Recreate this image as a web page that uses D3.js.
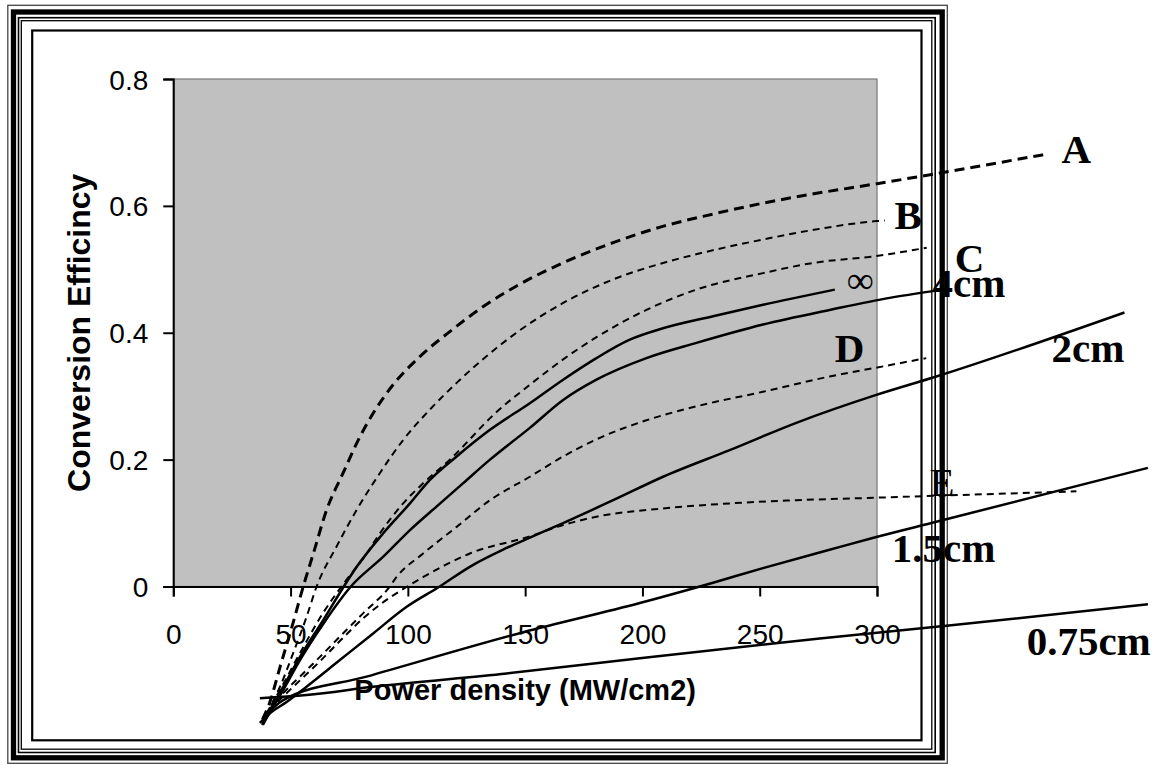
<!DOCTYPE html>
<html>
<head>
<meta charset="utf-8">
<script src="https://cdnjs.cloudflare.com/ajax/libs/d3/7.8.5/d3.min.js"></script>
<style>
body { margin: 0; background: #fff; }
</style>
</head>
<body>
<div id="chart"></div>
<script>
// axis ticks
const xTicks = [0, 50, 100, 150, 200, 250, 300];
const yTicks = [0, 0.2, 0.4, 0.6, 0.8];

// dashed curves  [power density, efficiency]
const curveA = [[38,-0.21],[41,-0.184],[45.5,-0.127],[51,-0.058],[55.4,0],[59.7,0.052],[65.4,0.121],[72.4,0.179],[78.2,0.226],[85.2,0.273],[93.7,0.318],[105,0.362],[119,0.405],[132,0.441],[146,0.473],[166,0.51],[187.5,0.542],[209,0.568],[230,0.587],[251,0.604],[273,0.619],[300,0.635],[324,0.65],[371.5,0.681]];
const curveB = [[39.8,-0.2],[45.5,-0.158],[51.1,-0.105],[56.8,-0.048],[61.1,0],[69.6,0.063],[78.2,0.121],[88.1,0.179],[98,0.231],[109.4,0.279],[120.8,0.321],[133.5,0.363],[146.3,0.4],[166.2,0.447],[187.5,0.484],[208.8,0.51],[230,0.53],[251.4,0.547],[272.7,0.562],[299.7,0.576],[303.3,0.577]];
const curveC = [[39.1,-0.204],[45.5,-0.163],[54,-0.105],[63.8,-0.042],[73.1,0.007],[81.7,0.048],[88.1,0.084],[98,0.131],[106.6,0.163],[117.9,0.2],[137.8,0.275],[152,0.318],[166.2,0.358],[180.4,0.393],[201.7,0.436],[223,0.468],[251.4,0.494],[272.7,0.51],[299.7,0.521],[321.2,0.534]];
const curveD = [[40.4,-0.198],[46.9,-0.168],[54,-0.142],[62.5,-0.111],[71,-0.079],[81,-0.042],[92.3,0],[95.2,0.015],[106.5,0.052],[120.8,0.094],[135,0.136],[152,0.173],[166.2,0.205],[180.4,0.232],[201.7,0.262],[223,0.284],[251.4,0.307],[279.8,0.331],[302.6,0.347],[321,0.36]];
const curveE = [[40.8,-0.195],[46.9,-0.173],[54,-0.148],[62.5,-0.118],[71,-0.086],[81,-0.05],[90.9,-0.021],[99.8,0],[106.6,0.015],[126.4,0.052],[152,0.079],[166.2,0.097],[180.4,0.11],[208.8,0.123],[237.2,0.131],[265.6,0.136],[299.7,0.14],[385,0.15]];

// solid curves (cell length)
const curveInf = [[38.4,-0.215],[41.2,-0.195],[46.9,-0.158],[54,-0.111],[63.9,-0.053],[72.7,0],[78.2,0.031],[89.5,0.084],[100.9,0.131],[109.4,0.168],[120.8,0.205],[135,0.247],[152,0.289],[166.2,0.326],[180.4,0.36],[194.6,0.389],[208.8,0.407],[230.1,0.426],[251.4,0.444],[282,0.468]];
const curve4cm = [[38.2,-0.218],[41.2,-0.198],[46.9,-0.163],[54,-0.116],[63.9,-0.059],[75.7,0],[89.5,0.047],[100.9,0.089],[112.2,0.126],[123.6,0.163],[135,0.2],[152,0.25],[166.2,0.294],[180.4,0.326],[201.7,0.36],[223,0.384],[251.4,0.413],[279.8,0.436],[305.4,0.455],[324.6,0.466]];
const curve2cm = [[36.9,-0.215],[41.2,-0.2],[48.3,-0.182],[56.8,-0.158],[71,-0.116],[85.2,-0.074],[99.5,-0.032],[113.6,0],[126.4,0.031],[140.6,0.058],[152,0.077],[166.2,0.1],[187.5,0.136],[208.8,0.173],[237.2,0.215],[265.6,0.258],[299.7,0.302],[325.3,0.331],[405.5,0.432]];
const curve15cm = [[37.8,-0.218],[41.2,-0.198],[46.9,-0.179],[82.4,-0.142],[149.2,-0.072],[198.9,-0.026],[230.1,0.006],[251.4,0.029],[279.8,0.058],[299.7,0.078],[325.3,0.102],[415.5,0.187]];
const curve075cm = [[36.9,-0.176],[56.8,-0.171],[85.2,-0.158],[142.1,-0.137],[198.9,-0.113],[275.6,-0.082],[329.6,-0.062],[415.5,-0.028]];

const curveNames = ["A", "B", "C", "D", "E", "∞", "4cm", "2cm", "1.5cm", "0.75cm"];

const width = 1169;
const height = 765;

// plot area in pixels
const plot = { left: 173.3, right: 877, top: 79, bottom: 586.5 };

const svg = d3.select("#chart")
    .append("svg")
    .attr("width", width)
    .attr("height", height);

// triple frame round the chart
const frames = [
    { x0: 7.8, y0: 5.3, x1: 947.3, y1: 763.3, w: 1.3, c: "#444" },
    { x0: 13.5, y0: 12, x1: 942.2, y1: 757.8, w: 5.3, c: "#000" },
    { x0: 18.5, y0: 17.7, x1: 935.2, y1: 752.5, w: 1.6, c: "#000" },
    { x0: 21.3, y0: 20.7, x1: 931.8, y1: 749.2, w: 1.3, c: "#000" },
    { x0: 32.2, y0: 30.5, x1: 921.5, y1: 740.3, w: 2.2, c: "#000" }
];
svg.selectAll("rect.frame")
    .data(frames)
    .join("rect")
    .attr("class", "frame")
    .attr("x", d => d.x0)
    .attr("y", d => d.y0)
    .attr("width", d => d.x1 - d.x0)
    .attr("height", d => d.y1 - d.y0)
    .attr("fill", "none")
    .attr("stroke", d => d.c)
    .attr("stroke-width", d => d.w);

const x = d3.scaleLinear().domain([0, 300]).range([plot.left, plot.right]);
const y = d3.scaleLinear().domain([0, 0.8]).range([plot.bottom, plot.top]);

// gray plot area
svg.append("rect")
    .attr("x", plot.left)
    .attr("y", plot.top)
    .attr("width", plot.right - plot.left)
    .attr("height", plot.bottom - plot.top)
    .attr("fill", "#c0c0c0")
    .attr("stroke", "#808080")
    .attr("stroke-width", 1.3);

// axes
const xAxis = svg.append("g")
    .attr("transform", `translate(0,${plot.bottom})`)
    .call(d3.axisBottom(x).tickValues(xTicks).tickSize(10).tickPadding(28).tickFormat(d3.format("d")));
const yAxis = svg.append("g")
    .attr("transform", `translate(${plot.left},0)`)
    .call(d3.axisLeft(y).tickValues(yTicks).tickSize(10).tickPadding(15).tickFormat(d => d === 0 ? "0" : d3.format(".1f")(d)));

[xAxis, yAxis].forEach(g => {
    g.select(".domain").attr("stroke", "#000").attr("stroke-width", 2);
    g.selectAll(".tick line").attr("stroke", "#000").attr("stroke-width", 2);
    g.selectAll(".tick text")
        .attr("fill", "#000")
        .style("font-family", "'Liberation Sans', Arial, sans-serif")
        .style("font-size", "28px");
});
yAxis.selectAll(".tick text").attr("dy", "0.36em");

// axis titles
svg.append("text")
    .attr("x", (plot.left + plot.right) / 2)
    .attr("y", 700)
    .attr("text-anchor", "middle")
    .style("font-family", "'Liberation Sans', Arial, sans-serif")
    .style("font-size", "29px")
    .style("font-weight", "bold")
    .text("Power density (MW/cm2)");

svg.append("text")
    .attr("transform", `translate(90,${(plot.top + plot.bottom) / 2}) rotate(-90)`)
    .attr("text-anchor", "middle")
    .style("font-family", "'Liberation Sans', Arial, sans-serif")
    .style("font-size", "32px")
    .style("font-weight", "bold")
    .text("Conversion Efficincy");

// curves, not clipped to the plot
const series = [
    { pts: curveA, dash: "10,6", w: 3 },
    { pts: curveB, dash: "7,5", w: 2 },
    { pts: curveC, dash: "7,5", w: 2 },
    { pts: curveD, dash: "7,5", w: 2 },
    { pts: curveE, dash: "7,5", w: 2 },
    { pts: curveInf, dash: null, w: 2.5 },
    { pts: curve4cm, dash: null, w: 2.5 },
    { pts: curve2cm, dash: null, w: 2.5 },
    { pts: curve15cm, dash: null, w: 2.5 },
    { pts: curve075cm, dash: null, w: 2.5 }
];

const line = d3.line()
    .x(d => x(d[0]))
    .y(d => y(d[1]))
    .curve(d3.curveMonotoneX);

svg.append("g")
    .selectAll("path")
    .data(series)
    .join("path")
    .attr("d", d => line(d.pts))
    .attr("fill", "none")
    .attr("stroke", "#000")
    .attr("stroke-width", d => d.w)
    .attr("stroke-dasharray", d => d.dash);

// curve labels, placed in data units
const labelAt = {
    "A": [378.7, 0.668, "bold"],
    "B": [307.5, 0.564, "bold"],
    "C": [333.1, 0.495, "bold"],
    "∞": [287.1, 0.462, "normal"],
    "4cm": [323.7, 0.457, "bold"],
    "D": [282.0, 0.354, "bold"],
    "2cm": [374.4, 0.354, "bold"],
    "E": [322.4, 0.143, "normal"],
    "1.5cm": [306.3, 0.039, "bold"],
    "0.75cm": [363.8, -0.108, "bold"]
};

svg.append("g")
    .selectAll("text")
    .data(curveNames)
    .join("text")
    .attr("x", d => x(labelAt[d][0]))
    .attr("y", d => y(labelAt[d][1]))
    .style("font-family", "'Liberation Serif', 'Times New Roman', serif")
    .style("font-size", d => d === "∞" ? "38px" : "41px")
    .style("font-weight", d => labelAt[d][2])
    .text(d => d);
</script>
</body>
</html>
